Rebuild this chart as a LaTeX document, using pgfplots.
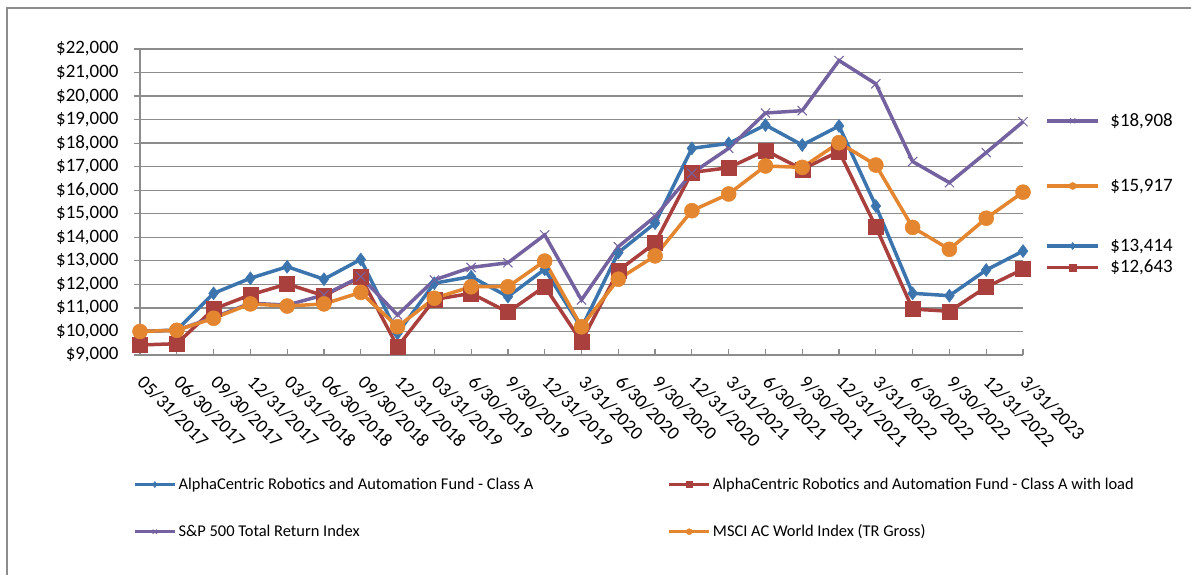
\documentclass[border=0pt]{standalone}
\usepackage{pgfplots}
\pgfplotsset{compat=1.18}
\usepackage{pgfplotstable}
\usepackage{fontspec}
\setmainfont{Carlito}
\definecolor{cblue}{HTML}{3C75AE}
\definecolor{cred}{HTML}{A9403D}
\definecolor{cpurple}{HTML}{7462A0}
\definecolor{corange}{HTML}{E3862F}
\definecolor{gridc}{HTML}{8C8C8C}
\pgfplotstableread{
x blue red purple orange
0 10000 9425 10000 10000
1 10060 9480 10050 10050
2 11620 10950 10600 10560
3 12260 11555 11200 11170
4 12750 12017 11120 11080
5 12220 11517 11550 11170
6 13060 12309 12330 11660
7 9920 9350 10700 10200
8 12050 11357 12190 11410
9 12330 11620 12720 11900
10 11480 10820 12920 11900
11 12640 11913 14100 12990
12 10150 9566 11340 10200
13 13350 12582 13600 12220
14 14600 13760 14880 13210
15 17780 16757 16720 15130
16 17990 16956 17780 15840
17 18770 17690 19280 17030
18 17920 16890 19380 16970
19 18730 17653 21510 18020
20 15330 14448 20520 17070
21 11620 10952 17220 14420
22 11520 10858 16320 13490
23 12610 11885 17600 14810
24 13414 12643 18908 15917
}\data
\newcommand\tickfont{\fontsize{19}{22}\selectfont}
\newcommand\legfont{\fontsize{16.5}{19}\selectfont}
\begin{document}
\begin{tikzpicture}[x=1bp,y=1bp]
\path[use as bounding box] (-140,-220) rectangle (1051,355);
\draw[gridc, line width=1.5bp] (-133,-220) -- (-133,347) -- (1051,347);
\begin{axis}[
  at={(0,0)}, anchor=south west, scale only axis,
  width=883bp, height=306bp,
  clip=false,
  xmin=0, xmax=24, ymin=9000, ymax=22000,
  scaled y ticks=false,
  xtick={0,...,24},
  xticklabels={05/31/2017,06/30/2017,09/30/2017,12/31/2017,03/31/2018,06/30/2018,09/30/2018,12/31/2018,03/31/2019,6/30/2019,9/30/2019,12/31/2019,3/31/2020,6/30/2020,9/30/2020,12/31/2020,3/31/2021,6/30/2021,9/30/2021,12/31/2021,3/31/2022,6/30/2022,9/30/2022,12/31/2022,3/31/2023},
  ytick={9000,10000,...,22000},
  yticklabels={{\$9,000},{\$10,000},{\$11,000},{\$12,000},{\$13,000},{\$14,000},{\$15,000},{\$16,000},{\$17,000},{\$18,000},{\$19,000},{\$20,000},{\$21,000},{\$22,000}},
  ymajorgrids, grid style={gridc, line width=1.3bp},
  axis x line*=bottom, axis y line*=left,
  axis line style={gridc, line width=1.3bp},
  tick align=inside, major tick length=6bp,
  tick style={gridc, line width=1.2bp},
  y tick style={xshift=-6bp},
  xticklabel style={font=\tickfont, rotate=-45, anchor=north west, xshift=14bp, yshift=-6bp},
  yticklabel style={font=\tickfont, anchor=east, xshift=-18bp},
  legend columns=2,
  legend cell align=left,
  legend style={draw=none, fill=none, font=\legfont, inner sep=0pt,
    at={(-0.008,-0.395)}, anchor=north west,
    /tikz/every even column/.append style={column sep=132bp},
    row sep=30bp},
  legend image code/.code={\draw[#1, mark size=3bp, mark repeat=2, mark phase=2] plot coordinates {(0bp,0bp) (20bp,0bp) (40bp,0bp)};},
  every axis plot/.append style={line width=3.5bp},
]
\addplot[cblue, mark=diamond*, mark size=6.5bp, mark options={line width=0.5bp, fill=cblue}] table[x=x,y=blue]{\data};
\addlegendentry{AlphaCentric Robotics and Automation Fund - Class A}
\addplot[cred, mark=square*, mark size=7.5bp, mark options={line width=0.5bp, fill=cred}] table[x=x,y=red]{\data};
\addlegendentry{AlphaCentric Robotics and Automation Fund - Class A with load}
\addplot[cpurple, mark=x, mark size=6.5bp, mark options={line width=1bp}] table[x=x,y=purple]{\data};
\addlegendentry{S\&P 500 Total Return Index}
\addplot[corange, mark=*, mark size=7.5bp, mark options={line width=0.5bp, fill=corange}] table[x=x,y=orange]{\data};
\addlegendentry{MSCI AC World Index (TR Gross)}
% end labels
\addplot[cpurple, mark=x, mark size=3.5bp, mark options={line width=1bp}, mark indices={2}, forget plot] coordinates {(24.65,18950) (25.35,18950) (26.04,18950)};
\addplot[corange, mark=*, mark size=3.5bp, mark options={line width=0.5bp, fill=corange}, mark indices={2}, forget plot] coordinates {(24.65,16180) (25.35,16180) (26.04,16180)};
\addplot[cblue, mark=diamond*, mark size=3.5bp, mark options={line width=0.5bp, fill=cblue}, mark indices={2}, forget plot] coordinates {(24.65,13630) (25.35,13630) (26.04,13630)};
\addplot[cred, mark=square*, mark size=3.5bp, mark options={line width=0.5bp, fill=cred}, mark indices={2}, forget plot] coordinates {(24.65,12725) (25.35,12725) (26.04,12725)};
\node[anchor=west, font=\tickfont, inner sep=0pt] at (axis cs:26.37,18910) {\$18,908};
\node[anchor=west, font=\tickfont, inner sep=0pt] at (axis cs:26.37,16150) {\$15,917};
\node[anchor=west, font=\tickfont, inner sep=0pt] at (axis cs:26.37,13600) {\$13,414};
\node[anchor=west, font=\tickfont, inner sep=0pt] at (axis cs:26.37,12720) {\$12,643};
\end{axis}
\end{tikzpicture}
\end{document}
